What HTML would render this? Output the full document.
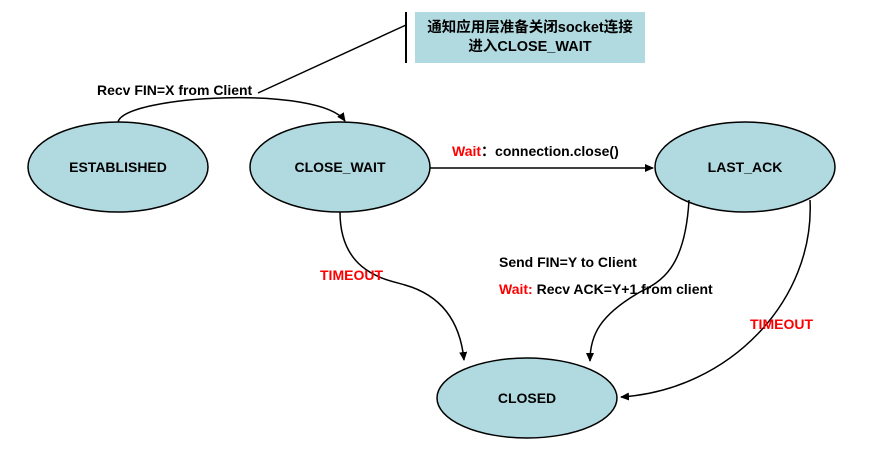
<!DOCTYPE html>
<html><head><meta charset="utf-8"><style>
body{margin:0;background:#fff;}
svg{display:block;font-family:"Liberation Sans","Noto Sans CJK SC",sans-serif;}
</style></head><body>
<svg width="887" height="468" viewBox="0 0 887 468">
<defs><marker id="a" markerWidth="10" markerHeight="10" refX="8" refY="5" orient="auto" markerUnits="userSpaceOnUse"><path d="M0,1 L9,5 L0,9 Z" fill="#000"/></marker></defs>
<rect x="415" y="12" width="230" height="51" fill="#b0dae0"/>
<line x1="406" y1="12" x2="406" y2="63" stroke="#000" stroke-width="2"/>
<line x1="406" y1="25" x2="258" y2="93" stroke="#000" stroke-width="1.5"/>
<text x="530" y="32" font-size="14.5" font-weight="bold" text-anchor="middle">通知应用层准备关闭socket连接</text>
<text x="530" y="51" font-size="14.5" font-weight="bold" text-anchor="middle">进入CLOSE_WAIT</text>
<g fill="#b0dae0" stroke="#000" stroke-width="1.5">
<ellipse cx="118" cy="167" rx="90" ry="45"/>
<ellipse cx="340" cy="167" rx="90" ry="45"/>
<ellipse cx="745" cy="167" rx="90" ry="45"/>
<ellipse cx="527" cy="398" rx="90" ry="40"/>
</g>
<g font-size="14" font-weight="bold" text-anchor="middle" fill="#000">
<text x="118" y="172">ESTABLISHED</text>
<text x="340" y="172">CLOSE_WAIT</text>
<text x="745" y="172">LAST_ACK</text>
<text x="527" y="403">CLOSED</text>
</g>
<g fill="none" stroke="#000" stroke-width="1.5" marker-end="url(#a)">
<path d="M118,122 C125,95 320,85 345,121"/>
<line x1="430" y1="168" x2="653" y2="168"/>
<path d="M340,212 C340,275 390,280 405,285 C440,295 460,320 464,360"/>
<path d="M689,200 C685,270 660,282 640,292 C600,315 590,335 590,361"/>
<path d="M810,200 C815,300 730,390 621,397"/>
</g>
<g font-size="14" font-weight="bold">
<text x="97" y="95">Recv FIN=X from Client</text>
<text x="452" y="156" fill="#f00">Wait<tspan fill="#000">：connection.close()</tspan></text>
<text x="320" y="280" fill="#f00">TIMEOUT</text>
<text x="499" y="267">Send FIN=Y to Client</text>
<text x="499" y="294" fill="#f00">Wait: <tspan fill="#000">Recv ACK=Y+1 from client</tspan></text>
<text x="750" y="329" fill="#f00">TIMEOUT</text>
</g>
</svg>
</body></html>
